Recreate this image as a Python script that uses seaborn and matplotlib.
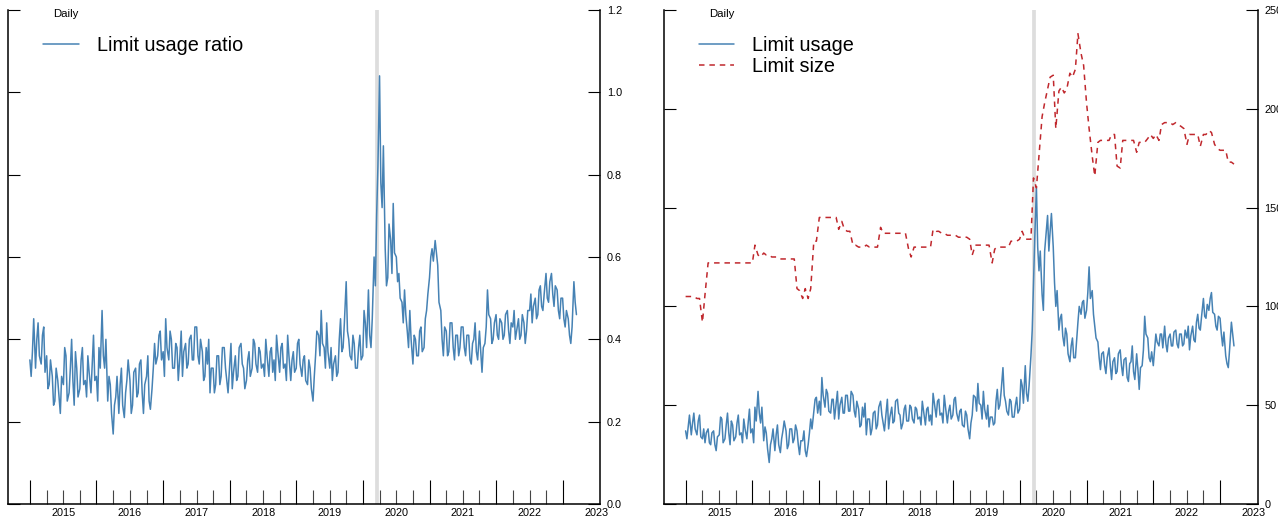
import matplotlib
matplotlib.use("Agg")
import matplotlib.pyplot as plt
import matplotlib.dates as mdates
import matplotlib.ticker as mticker
import pandas as pd
import seaborn as sns

BLUE = "#4682b4"
RED = "#c0282d"

# weekly-ish readings (1st, 8th, 15th, 22nd of each month), Jul 2014 - Sep 2022
RATIO_2014 = [0.35, 0.31, 0.37, 0.45, 0.33, 0.40, 0.44, 0.36, 0.34, 0.41, 0.43, 0.32,
              0.36, 0.28, 0.29, 0.35, 0.31, 0.24, 0.25, 0.33, 0.30, 0.26, 0.22, 0.31]
RATIO_2015 = [0.29, 0.38, 0.36, 0.25, 0.27, 0.33, 0.40, 0.30, 0.24, 0.37, 0.33, 0.26,
              0.28, 0.35, 0.38, 0.29, 0.30, 0.26, 0.36, 0.32, 0.27, 0.34, 0.41, 0.30,
              0.31, 0.25, 0.38, 0.33, 0.47, 0.36, 0.33, 0.40, 0.25, 0.31, 0.29, 0.22,
              0.17, 0.24, 0.26, 0.31, 0.22, 0.29, 0.33, 0.24, 0.21, 0.27, 0.30, 0.35]
RATIO_2016 = [0.30, 0.22, 0.24, 0.32, 0.33, 0.26, 0.27, 0.34, 0.35, 0.27, 0.22, 0.29,
              0.31, 0.36, 0.25, 0.23, 0.28, 0.33, 0.39, 0.34, 0.36, 0.41, 0.42, 0.35,
              0.37, 0.31, 0.45, 0.38, 0.35, 0.42, 0.40, 0.33, 0.33, 0.39, 0.38, 0.30,
              0.36, 0.42, 0.31, 0.37, 0.39, 0.33, 0.34, 0.40, 0.41, 0.35, 0.35, 0.43]
RATIO_2017 = [0.43, 0.36, 0.34, 0.40, 0.37, 0.30, 0.31, 0.38, 0.34, 0.40, 0.27, 0.33,
              0.33, 0.27, 0.29, 0.36, 0.36, 0.29, 0.31, 0.38, 0.38, 0.33, 0.30, 0.27,
              0.34, 0.39, 0.28, 0.32, 0.36, 0.30, 0.31, 0.38, 0.39, 0.34, 0.33, 0.28,
              0.30, 0.35, 0.37, 0.31, 0.33, 0.40, 0.39, 0.34, 0.32, 0.38, 0.37, 0.33]
RATIO_2018 = [0.34, 0.31, 0.40, 0.36, 0.31, 0.37, 0.38, 0.32, 0.35, 0.30, 0.41, 0.37,
              0.32, 0.38, 0.39, 0.33, 0.34, 0.30, 0.41, 0.36, 0.30, 0.35, 0.37, 0.32,
              0.33, 0.39, 0.40, 0.34, 0.31, 0.35, 0.36, 0.30, 0.29, 0.35, 0.33, 0.28,
              0.25, 0.31, 0.36, 0.42, 0.41, 0.36, 0.47, 0.39, 0.38, 0.33, 0.44, 0.37]
RATIO_2019 = [0.33, 0.38, 0.30, 0.34, 0.36, 0.31, 0.32, 0.40, 0.45, 0.37, 0.38, 0.44,
              0.54, 0.42, 0.40, 0.36, 0.35, 0.41, 0.39, 0.33, 0.33, 0.38, 0.41, 0.35,
              0.36, 0.47, 0.44, 0.38, 0.52, 0.41, 0.38, 0.45, 0.60, 0.53, 0.70, 0.82,
              1.04, 0.78, 0.72, 0.87, 0.62, 0.53, 0.55, 0.68, 0.64, 0.56, 0.73, 0.61]
RATIO_2020 = [0.60, 0.54, 0.56, 0.50, 0.49, 0.44, 0.52, 0.46, 0.42, 0.38, 0.47, 0.40,
              0.34, 0.41, 0.40, 0.36, 0.36, 0.42, 0.43, 0.37, 0.38, 0.45, 0.47, 0.51,
              0.55, 0.60, 0.62, 0.59, 0.64, 0.61, 0.58, 0.49, 0.47, 0.40, 0.36, 0.43,
              0.42, 0.36, 0.37, 0.44, 0.44, 0.38, 0.35, 0.41, 0.41, 0.36, 0.38, 0.43]
RATIO_2021 = [0.43, 0.38, 0.36, 0.41, 0.41, 0.35, 0.34, 0.39, 0.40, 0.44, 0.37, 0.35,
              0.42, 0.37, 0.32, 0.38, 0.39, 0.43, 0.52, 0.46, 0.45, 0.39, 0.40, 0.44,
              0.46, 0.41, 0.40, 0.45, 0.44, 0.40, 0.41, 0.46, 0.47, 0.42, 0.39, 0.44,
              0.43, 0.47, 0.40, 0.42, 0.45, 0.40, 0.41, 0.46, 0.44, 0.39, 0.42, 0.47]
RATIO_2022 = [0.47, 0.51, 0.44, 0.48, 0.50, 0.45, 0.46, 0.52, 0.53, 0.48, 0.47, 0.51,
              0.56, 0.50, 0.49, 0.54, 0.56, 0.51, 0.48, 0.53, 0.52, 0.47, 0.45, 0.50,
              0.50, 0.45, 0.43, 0.47, 0.45, 0.41, 0.39, 0.43, 0.54, 0.49, 0.46]

USAGE_2014 = [37, 33, 39, 45, 35, 41, 46, 38, 35, 42, 45, 34,
              33, 38, 31, 36, 38, 31, 30, 36, 37, 30, 27, 34]
USAGE_2015 = [35, 44, 43, 31, 33, 40, 46, 36, 30, 42, 40, 32,
              34, 41, 45, 35, 36, 31, 43, 38, 33, 41, 48, 36,
              38, 31, 49, 42, 57, 46, 41, 49, 32, 39, 36, 28,
              21, 30, 33, 38, 27, 35, 40, 30, 26, 33, 37, 42]
USAGE_2016 = [37, 28, 30, 38, 38, 31, 33, 40, 37, 30, 25, 32,
              32, 37, 27, 24, 30, 36, 43, 38, 47, 53, 54, 46,
              52, 45, 64, 55, 49, 58, 56, 47, 46, 53, 53, 43,
              51, 57, 43, 50, 54, 46, 46, 55, 55, 47, 47, 57]
USAGE_2017 = [55, 47, 44, 52, 48, 39, 40, 49, 44, 51, 35, 43,
              43, 35, 38, 46, 47, 38, 40, 49, 52, 45, 41, 37,
              46, 53, 38, 44, 49, 41, 42, 52, 53, 46, 45, 38,
              41, 48, 50, 42, 42, 50, 49, 43, 41, 49, 48, 43]
USAGE_2018 = [44, 40, 52, 47, 40, 48, 49, 42, 45, 40, 56, 51,
              44, 52, 53, 45, 46, 41, 55, 49, 41, 47, 50, 43,
              45, 53, 54, 46, 42, 47, 48, 40, 39, 47, 45, 38,
              33, 41, 45, 55, 54, 47, 61, 51, 50, 43, 57, 48]
USAGE_2019 = [43, 50, 39, 44, 44, 40, 41, 52, 58, 48, 50, 57,
              69, 55, 52, 47, 45, 53, 52, 44, 44, 50, 54, 46,
              48, 63, 60, 51, 70, 56, 52, 60, 75, 88, 112, 135,
              160, 130, 118, 128, 106, 98, 128, 136, 146, 128, 138, 147]
USAGE_2020 = [130, 112, 100, 108, 88, 94, 96, 85, 80, 89, 86, 76,
              72, 80, 84, 74, 74, 83, 92, 100, 96, 102, 103, 94,
              98, 107, 120, 104, 108, 96, 90, 84, 82, 74, 68, 76,
              77, 70, 66, 74, 79, 70, 63, 72, 74, 66, 67, 76]
USAGE_2021 = [78, 70, 65, 73, 74, 64, 62, 71, 72, 80, 67, 63,
              76, 68, 58, 69, 70, 78, 95, 86, 84, 74, 72, 77,
              70, 78, 86, 82, 80, 86, 86, 79, 90, 81, 77, 84,
              86, 80, 80, 87, 88, 81, 79, 86, 86, 80, 81, 88]
USAGE_2022 = [84, 90, 78, 85, 90, 83, 82, 92, 96, 89, 88, 95,
              104, 95, 94, 101, 98, 104, 107, 97, 96, 90, 88, 95,
              94, 86, 80, 87, 75, 71, 69, 78, 92, 86, 80]

# limit size, read on the 1st and 15th of each month
SIZE_2014 = [105, 105, 105, 105, 104, 104, 92, 106, 122, 122, 122, 122]
SIZE_2015 = [122, 122, 122, 122, 122, 122, 122, 122, 122, 122, 122, 122,
             122, 131, 126, 125, 127, 126, 126, 125, 125, 125, 124, 124]
SIZE_2016 = [124, 124, 124, 124, 109, 108, 104, 109, 104, 109, 133, 133,
             145, 145, 145, 145, 145, 145, 145, 139, 143, 139, 138, 138]
SIZE_2017 = [131, 131, 130, 130, 130, 131, 130, 130, 130, 130, 140, 137,
             137, 137, 137, 137, 137, 137, 137, 137, 129, 125, 130, 130]
SIZE_2018 = [130, 130, 130, 130, 130, 139, 138, 138, 137, 137, 136, 136,
             136, 136, 135, 135, 135, 135, 134, 126, 131, 131, 131, 131]
SIZE_2019 = [131, 131, 122, 129, 130, 130, 130, 130, 130, 133, 133, 133,
             134, 138, 134, 134, 134, 165, 160, 176, 196, 203, 210, 216]
SIZE_2020 = [217, 190, 209, 211, 208, 210, 218, 216, 220, 238, 228, 222,
             203, 190, 176, 166, 183, 184, 184, 184, 184, 187, 187, 171]
SIZE_2021 = [170, 184, 184, 184, 184, 184, 178, 183, 183, 183, 185, 187,
             185, 187, 184, 192, 193, 193, 193, 192, 193, 192, 191, 190]
SIZE_2022 = [182, 187, 187, 187, 187, 181, 187, 187, 189, 188, 182, 180,
             179, 179, 179, 173, 173, 172]

EVENT_DATE = pd.Timestamp("2019-09-17")
YEAR_LABELS = [2015, 2016, 2017, 2018, 2019, 2020, 2021, 2022, 2023]
X_START = pd.Timestamp("2014-03-03")
X_END = pd.Timestamp("2023-01-22")

semi_monthly = pd.date_range("2014-07-01", "2022-09-15", freq="SMS")
weekly = semi_monthly.union(semi_monthly + pd.Timedelta(days=7))
weekly = weekly[weekly <= pd.Timestamp("2022-09-15")]

usage_df = pd.DataFrame({
    "date": weekly,
    "ratio": RATIO_2014 + RATIO_2015 + RATIO_2016 + RATIO_2017 + RATIO_2018
    + RATIO_2019 + RATIO_2020 + RATIO_2021 + RATIO_2022,
    "usage": USAGE_2014 + USAGE_2015 + USAGE_2016 + USAGE_2017 + USAGE_2018
    + USAGE_2019 + USAGE_2020 + USAGE_2021 + USAGE_2022,
})
size_df = pd.DataFrame({
    "date": semi_monthly,
    "size": SIZE_2014 + SIZE_2015 + SIZE_2016 + SIZE_2017 + SIZE_2018
    + SIZE_2019 + SIZE_2020 + SIZE_2021 + SIZE_2022,
})

sns.set_style("ticks", {"text.color": "black", "xtick.color": "black",
                        "ytick.color": "black", "axes.edgecolor": "black"})
plt.rcParams["font.family"] = ["Liberation Sans", "DejaVu Sans"]

LONG_TICKS = pd.date_range("2014-07-01", "2022-07-01", freq="12MS")
SHORT_TICKS = pd.date_range("2014-10-01", "2022-04-01", freq="QS")


def style_axis(ax, ymax, ystep, fmt):
    ax.set_xlim(X_START, X_END)
    ax.set_ylim(0, ymax)
    ax.set_xlabel("")
    ax.set_ylabel("")
    ax.spines["top"].set_visible(False)
    for side in ["left", "right", "bottom"]:
        ax.spines[side].set_visible(True)
        ax.spines[side].set_linewidth(1.1)
        ax.spines[side].set_color("black")
    ax.yaxis.set_major_locator(mticker.MultipleLocator(ystep))
    ax.yaxis.set_major_formatter(mticker.FormatStrFormatter(fmt))
    ax.tick_params(axis="y", which="major", direction="in", length=8.6, width=0.8,
                   left=True, right=True, labelleft=False, labelright=True,
                   labelsize=7.8, pad=5, color="black", labelcolor="black")
    ax.xaxis.set_major_locator(mticker.FixedLocator(mdates.date2num(LONG_TICKS)))
    ax.xaxis.set_minor_locator(mticker.FixedLocator(mdates.date2num(SHORT_TICKS)))
    ax.xaxis.set_major_formatter(mticker.NullFormatter())
    ax.xaxis.set_minor_formatter(mticker.NullFormatter())
    ax.tick_params(axis="x", which="major", direction="in", length=17, width=0.8,
                   color="black")
    ax.tick_params(axis="x", which="minor", direction="in", length=10, width=0.8,
                   color="#444444")
    for year in YEAR_LABELS:
        ax.text(pd.Timestamp(f"{year}-01-01"), -0.019, str(year),
                transform=ax.get_xaxis_transform(), ha="center", va="center",
                fontsize=7.8, color="black")
    ax.text(0.076, 0.992, "Daily", transform=ax.transAxes, fontsize=8.2,
            ha="left", va="center", color="black")
    ax.axvline(EVENT_DATE, color="#dddddd", lw=2.7, zorder=1)
    ax.legend(loc="upper left", bbox_to_anchor=(0.0456, 0.9626), borderaxespad=0,
              frameon=False, fontsize=14.3, handlelength=1.8, handletextpad=0.9,
              labelspacing=0.1, labelcolor="black")


fig = plt.figure(figsize=(12.78, 5.25), dpi=100)
ax1 = fig.add_axes([0.00626, 0.04, 0.4632, 0.941])
ax2 = fig.add_axes([0.5193, 0.04, 0.4647, 0.941])

sns.lineplot(data=usage_df, x="date", y="ratio", ax=ax1, color=BLUE, lw=1.1,
             label="Limit usage ratio", zorder=2)
style_axis(ax1, 1.2, 0.2, "%.1f")

sns.lineplot(data=usage_df, x="date", y="usage", ax=ax2, color=BLUE, lw=1.1,
             label="Limit usage", zorder=2)
sns.lineplot(data=size_df, x="date", y="size", ax=ax2, color=RED, lw=1.1,
             linestyle=(0, (3.6, 3.2)), label="Limit size", zorder=3)
style_axis(ax2, 250, 50, "%d")

fig.savefig("out.png", dpi=100)
